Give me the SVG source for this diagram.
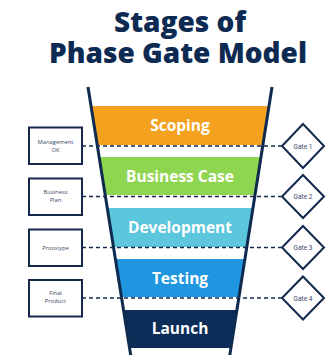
<svg xmlns="http://www.w3.org/2000/svg" width="326" height="355" viewBox="0 0 326 355">
<style>
.title{font-family:"Open Sans","Liberation Sans",sans-serif;font-weight:800;font-size:28px;fill:#0d2b52;text-anchor:middle}
.band{font-family:"Open Sans","Liberation Sans",sans-serif;font-weight:700;font-size:15.5px;fill:#fff;text-anchor:middle}
.box{fill:#fff;stroke:#14284d;stroke-width:2}
.small{font-family:"Open Sans","Liberation Sans",sans-serif;font-size:5.8px;fill:#3a4a66;text-anchor:middle}
.gate{font-family:"Roboto","Liberation Sans Narrow",sans-serif;font-size:6.5px;fill:#3a4a66;text-anchor:middle}
.dash{stroke:#14284d;stroke-width:1.6;stroke-dasharray:4 3;fill:none}
.funnel{stroke:#0f2a4f;stroke-width:3;fill:none}
</style>
<rect width="326" height="355" fill="#fff"/>
<g id="title">
<text class="title"><tspan x="180" y="32">Stages of</tspan><tspan x="178" y="63">Phase Gate Model</tspan></text>
</g>
<g id="stage-scoping">
<polygon points="91,106 269,106 262.7,145 97.3,145" fill="#f4a11f"/>
<text class="band" x="180" y="131">Scoping</text>
</g>
<g id="stage-business-case">
<polygon points="99.2,157 260.8,157 254.7,195 105.3,195" fill="#8fd650"/>
<text class="band" x="180" y="182">Business Case</text>
</g>
<g id="stage-development">
<polygon points="107.4,208 252.6,208 246.4,247 113.6,247" fill="#5bc6dc"/>
<text class="band" x="180" y="233">Development</text>
</g>
<g id="stage-testing">
<polygon points="115.5,259 244.5,259 238.4,297 121.6,297" fill="#2196e0"/>
<text class="band" x="180" y="284">Testing</text>
</g>
<g id="stage-launch">
<polygon points="123.7,310 236.3,310 230.2,348 129.8,348" fill="#0c2d57"/>
<text class="band" x="180" y="334">Launch</text>
</g>
<g id="connectors">
<line class="dash" x1="82" y1="146" x2="281" y2="146"/>
<line class="dash" x1="82" y1="196.5" x2="281" y2="196.5"/>
<line class="dash" x1="82" y1="247.5" x2="281" y2="247.5"/>
<line class="dash" x1="82" y1="298" x2="281" y2="298"/>
</g>
<g id="funnel">
<line class="funnel" x1="88" y1="87" x2="131" y2="357"/>
<line class="funnel" x1="272" y1="87" x2="229.5" y2="357"/>
</g>
<g id="box-management-ok">
<rect class="box" x="29" y="127.5" width="53" height="36.5"/>
<text class="small" x="55.5" y="144">Management</text>
<text class="small" x="55.5" y="152">OK</text>
</g>
<g id="box-business-plan">
<rect class="box" x="29" y="178.5" width="53" height="36.5"/>
<text class="small" x="55.5" y="193.5">Business</text>
<text class="small" x="55.5" y="202">Plan</text>
</g>
<g id="box-prototype">
<rect class="box" x="29" y="229.5" width="53" height="36.5"/>
<text class="small" x="55.5" y="249.5">Prototype</text>
</g>
<g id="box-final-product">
<rect class="box" x="29" y="280" width="53" height="36.5"/>
<text class="small" x="55.5" y="294.5">Final</text>
<text class="small" x="55.5" y="302.5">Product</text>
</g>
<g id="gate-1">
<polygon class="box" points="303,124 324,146 303,168 282,146"/>
<text class="gate" x="303" y="148.5">Gate 1</text>
</g>
<g id="gate-2">
<polygon class="box" points="303,175 324,196.5 303,218 282,196.5"/>
<text class="gate" x="303" y="199">Gate 2</text>
</g>
<g id="gate-3">
<polygon class="box" points="303,226 324,247.5 303,269 282,247.5"/>
<text class="gate" x="303" y="250">Gate 3</text>
</g>
<g id="gate-4">
<polygon class="box" points="303,276.5 324,298 303,319.5 282,298"/>
<text class="gate" x="303" y="300.5">Gate 4</text>
</g>
</svg>
